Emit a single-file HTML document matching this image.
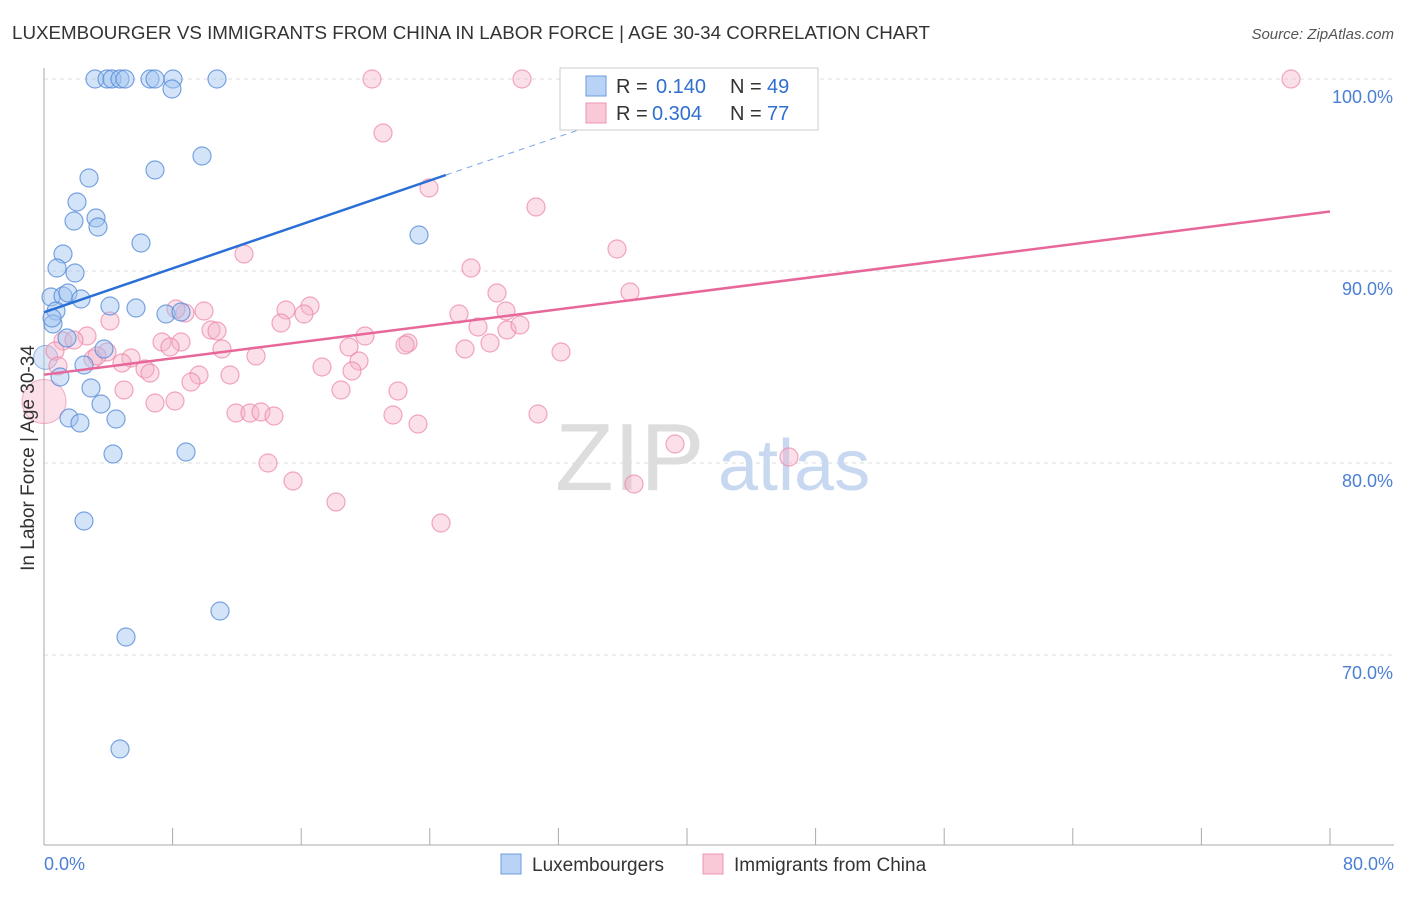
<!DOCTYPE html>
<html><head><meta charset="utf-8"><style>
body{margin:0;background:#fff;font-family:"Liberation Sans",sans-serif}
svg text{font-family:"Liberation Sans",sans-serif}
</style></head><body>
<svg width="1406" height="892" viewBox="0 0 1406 892">
<text x="12" y="39" font-size="18" fill="#333" textLength="918" lengthAdjust="spacingAndGlyphs">LUXEMBOURGER VS IMMIGRANTS FROM CHINA IN LABOR FORCE | AGE 30-34 CORRELATION CHART</text>
<text x="1394" y="39" font-size="15" fill="#555" font-style="italic" text-anchor="end">Source: ZipAtlas.com</text>
<g id="grid"></g>
<text x="555" y="490" font-size="96" fill="#ddd" font-family="Liberation Serif">ZIP</text>
<text x="718" y="490" font-size="72" fill="#c7d8f0">atlas</text>
<line x1="44" y1="68" x2="44" y2="845" stroke="#aaa"/>
<line x1="44" y1="845" x2="1394" y2="845" stroke="#aaa"/>
<g id="pts"></g>
<g id="trend"></g>
<text x="34" y="458" font-size="19" fill="#333" text-anchor="middle" transform="rotate(-90 34 458)">In Labor Force | Age 30-34</text>
<text x="44" y="870" font-size="18" fill="#4a7fd4">0.0%</text>
<text x="1394" y="870" font-size="18" fill="#4a7fd4" text-anchor="end">80.0%</text>
<g>
<rect x="560" y="68" width="258" height="62" fill="#fff" stroke="#ccc"/>
<rect x="586" y="76" width="20" height="20" fill="#b8d3f5" stroke="#6e9be0"/>
<rect x="586" y="103" width="20" height="20" fill="#f9c9d8" stroke="#ec95b2"/>
<text x="616" y="93" font-size="20" fill="#333">R =</text>
<text x="656" y="93" font-size="20" fill="#2f6fd0">0.140</text>
<text x="730" y="93" font-size="20" fill="#333">N =</text>
<text x="767" y="93" font-size="20" fill="#2f6fd0">49</text>
<text x="616" y="120" font-size="20" fill="#333">R =</text>
<text x="652" y="120" font-size="20" fill="#2f6fd0">0.304</text>
<text x="730" y="120" font-size="20" fill="#333">N =</text>
<text x="767" y="120" font-size="20" fill="#2f6fd0">77</text>
</g>
<g>
<rect x="501" y="854" width="20" height="20" fill="#b8d3f5" stroke="#6e9be0"/>
<text x="532" y="871" font-size="19" fill="#333">Luxembourgers</text>
<rect x="703" y="854" width="20" height="20" fill="#f9c9d8" stroke="#ec95b2"/>
<text x="734" y="871" font-size="19" fill="#333">Immigrants from China</text>
</g>
</svg>
<script>
const yTicks=[100,90,80,70];
const xTicks=[0,8,16,24,32,40,48,56,64,72,80];
const bluePts=[[95,79],[107,79],[112,79],[120,79],[125,79],[150,79],[155,79],[173,79],[217,79],[172,89],[202,156],[155,170],[89,178],[77,202],[96,218],[74,221],[98,227],[141,243],[63,254],[57,268],[75,273],[51,297],[63,296],[68,293],[81,299],[56,311],[110,306],[136,308],[166,314],[181,312],[53,324],[67,338],[104,349],[84,365],[60,377],[91,388],[101,404],[69,418],[80,423],[116,419],[113,454],[186,452],[84,521],[220,611],[126,637],[120,749],[419,235],[52,318]];
const pinkPts=[[372,79],[522,79],[574,79],[1291,79],[383,133],[429,188],[536,207],[617,249],[244,254],[471,268],[497,293],[630,292],[204,311],[185,313],[286,310],[310,306],[304,314],[459,314],[506,311],[281,323],[478,327],[507,330],[211,330],[217,331],[365,336],[87,336],[63,341],[74,340],[162,342],[181,342],[170,347],[222,349],[408,343],[405,345],[349,347],[465,349],[490,343],[561,352],[107,352],[93,359],[131,358],[122,363],[256,356],[359,361],[145,369],[150,373],[322,367],[352,371],[230,375],[199,375],[191,382],[124,390],[341,390],[398,391],[155,403],[175,401],[236,413],[250,413],[261,412],[274,416],[393,415],[418,424],[538,414],[675,444],[789,457],[268,463],[293,481],[336,502],[441,523],[634,484],[55,351],[58,366],[110,321],[97,356],[520,325],[176,309]];
const X0=44,XS=1286/80,Y0=79,YS=19.2;
const xs=v=>X0+v*XS, ys=v=>Y0+(100-v)*YS;
const toD=p=>[(p[0]-X0)/XS,100-(p[1]-Y0)/YS];
const blueData=bluePts.map(toD), pinkData=pinkPts.map(toD);
const blueTrend=[[0,87.85],[25,95.0],[34.5,97.7]];
const pinkTrend=[[0,84.6],[80,93.1]];
const NS="http://www.w3.org/2000/svg";
function mk(t,a,p){const e=document.createElementNS(NS,t);for(const k in a)e.setAttribute(k,a[k]);p.appendChild(e);return e;}
const g=document.getElementById('grid');
yTicks.forEach(v=>{const l=mk('line',{x1:44,x2:1394,y1:ys(v),y2:ys(v),stroke:'#ddd','stroke-dasharray':'4,4'},g);


const t=mk('text',{x:1393,y:ys(v)+24,'font-size':18,fill:'#4a7fd4','text-anchor':'end'},g);t.textContent=v.toFixed(1)+'%';

});
xTicks.forEach(v=>{const l=mk('line',{x1:xs(v),x2:xs(v),y1:828,y2:845,stroke:'#aaa'},g);

});
const P=document.getElementById('pts');
const big1=mk('circle',{cx:xs(0),cy:ys(83.2),r:22,fill:'rgba(246,178,200,0.4)',stroke:'rgba(236,130,165,0.6)'},P);


const big2=mk('circle',{cx:xs(0.1),cy:ys(85.5),r:12,fill:'rgba(160,195,240,0.4)',stroke:'rgba(90,140,220,0.6)'},P);


pinkData.forEach(d=>{const c=mk('circle',{cx:xs(d[0]),cy:ys(d[1]),r:9,fill:'rgba(246,178,200,0.4)',stroke:'rgba(236,130,165,0.7)','stroke-width':1.2},P);

});
blueData.forEach(d=>{const c=mk('circle',{cx:xs(d[0]),cy:ys(d[1]),r:9,fill:'rgba(160,195,240,0.45)',stroke:'rgba(80,135,215,0.75)','stroke-width':1.2},P);

});
const T=document.getElementById('trend');
let l1=mk('line',{x1:xs(blueTrend[0][0]),y1:ys(blueTrend[0][1]),x2:xs(blueTrend[1][0]),y2:ys(blueTrend[1][1]),stroke:'#2a6fd8','stroke-width':2.5},T);


let l2=mk('line',{x1:xs(blueTrend[1][0]),y1:ys(blueTrend[1][1]),x2:xs(blueTrend[2][0]),y2:ys(blueTrend[2][1]),stroke:'#7aa6e6','stroke-width':1,'stroke-dasharray':'6,5'},T);


let l3=mk('line',{x1:xs(pinkTrend[0][0]),y1:ys(pinkTrend[0][1]),x2:xs(pinkTrend[1][0]),y2:ys(pinkTrend[1][1]),stroke:'#e8679a','stroke-width':2.5},T);


</script>
</body></html>
